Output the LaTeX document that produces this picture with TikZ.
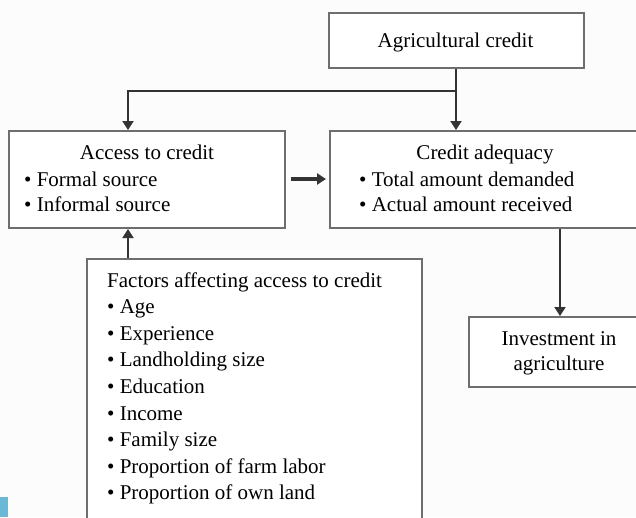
\documentclass[tikz,border=0pt]{standalone}
\usepackage{fontspec}
\setmainfont{Liberation Serif}
\usetikzlibrary{arrows.meta}
\definecolor{boxline}{HTML}{6E6E6E}
\definecolor{arrline}{HTML}{333333}
\definecolor{bg}{HTML}{FCFCFC}
\definecolor{tab}{HTML}{6BB8D6}
\tikzset{
  box/.style={draw=boxline, line width=2pt, fill=white, inner sep=0pt},
  txt/.style={anchor=base west, inner sep=0pt, font=\fontsize{21}{25}\selectfont},
  ctxt/.style={anchor=base, inner sep=0pt, font=\fontsize{21}{25}\selectfont},
  conn/.style={draw=arrline, line width=2pt},
  arr/.style={conn, -{Triangle[length=9pt,width=11pt]}}
}
\begin{document}
\begin{tikzpicture}[x=1pt,y=-1pt]
\clip (0,0) rectangle (636,517);
\fill[bg] (0,0) rectangle (636,517);
% boxes
\node[box, minimum width=255pt, minimum height=55pt] (agri) at (456,40.5) {};
\node[box, minimum width=276pt, minimum height=97pt] (access) at (147,179.5) {};
\node[box, minimum width=320pt, minimum height=97pt] (adeq) at (490,179.5) {};
\node[box, minimum width=335pt, minimum height=280pt] (fact) at (254.5,399) {};
\node[box, minimum width=200pt, minimum height=70pt] (inv) at (569,352) {};
\fill[tab] (0,497) rectangle (8,517);
% texts
\node[ctxt] (t1) at (455.5,47) {Agricultural credit};
\node[ctxt] (a0) at (147,159) {Access to credit};
\node[txt] (a1) at (24,186) {\textbullet\ Formal source};
\node[txt] (a2) at (24,211) {\textbullet\ Informal source};
\node[ctxt] (c0) at (485,159) {Credit adequacy};
\node[txt] (c1) at (359,186) {\textbullet\ Total amount demanded};
\node[txt] (c2) at (359,211) {\textbullet\ Actual amount received};
\node[txt] (f0) at (107,287) {Factors affecting access to credit};
\node[txt] (f1) at (107,313.6) {\textbullet\ Age};
\node[txt] (f2) at (107,340.2) {\textbullet\ Experience};
\node[txt] (f3) at (107,366.8) {\textbullet\ Landholding size};
\node[txt] (f4) at (107,393.4) {\textbullet\ Education};
\node[txt] (f5) at (107,420) {\textbullet\ Income};
\node[txt] (f6) at (107,446.6) {\textbullet\ Family size};
\node[txt] (f7) at (107,473.2) {\textbullet\ Proportion of farm labor};
\node[txt] (f8) at (107,499.8) {\textbullet\ Proportion of own land};
\node[ctxt] (i0) at (559,345) {Investment in};
\node[ctxt] (i1) at (559,370) {agriculture};
% connectors
\coordinate (j) at (agri.south |- 0,91);
\coordinate (jl) at (access.north -| 128,0);
\coordinate (fu) at (fact.north -| 128,0);
\coordinate (au) at (access.south -| 128,0);
\coordinate (ad) at (adeq.south -| 560,0);
\coordinate (it) at (inv.north -| 560,0);
\coordinate (hl) at (291,179);
\coordinate (hr) at (adeq.west |- 0,179);
\draw[arr] (agri.south) -- (j |- adeq.north);
\draw[arr] (j) -- (128,91) -- (jl);
\draw[arr] (fu) -- (au);
\draw[arr, line width=3.5pt] (hl) -- ([xshift=-3pt]hr);
\draw[arr] (ad) -- (it);
\end{tikzpicture}
\end{document}
